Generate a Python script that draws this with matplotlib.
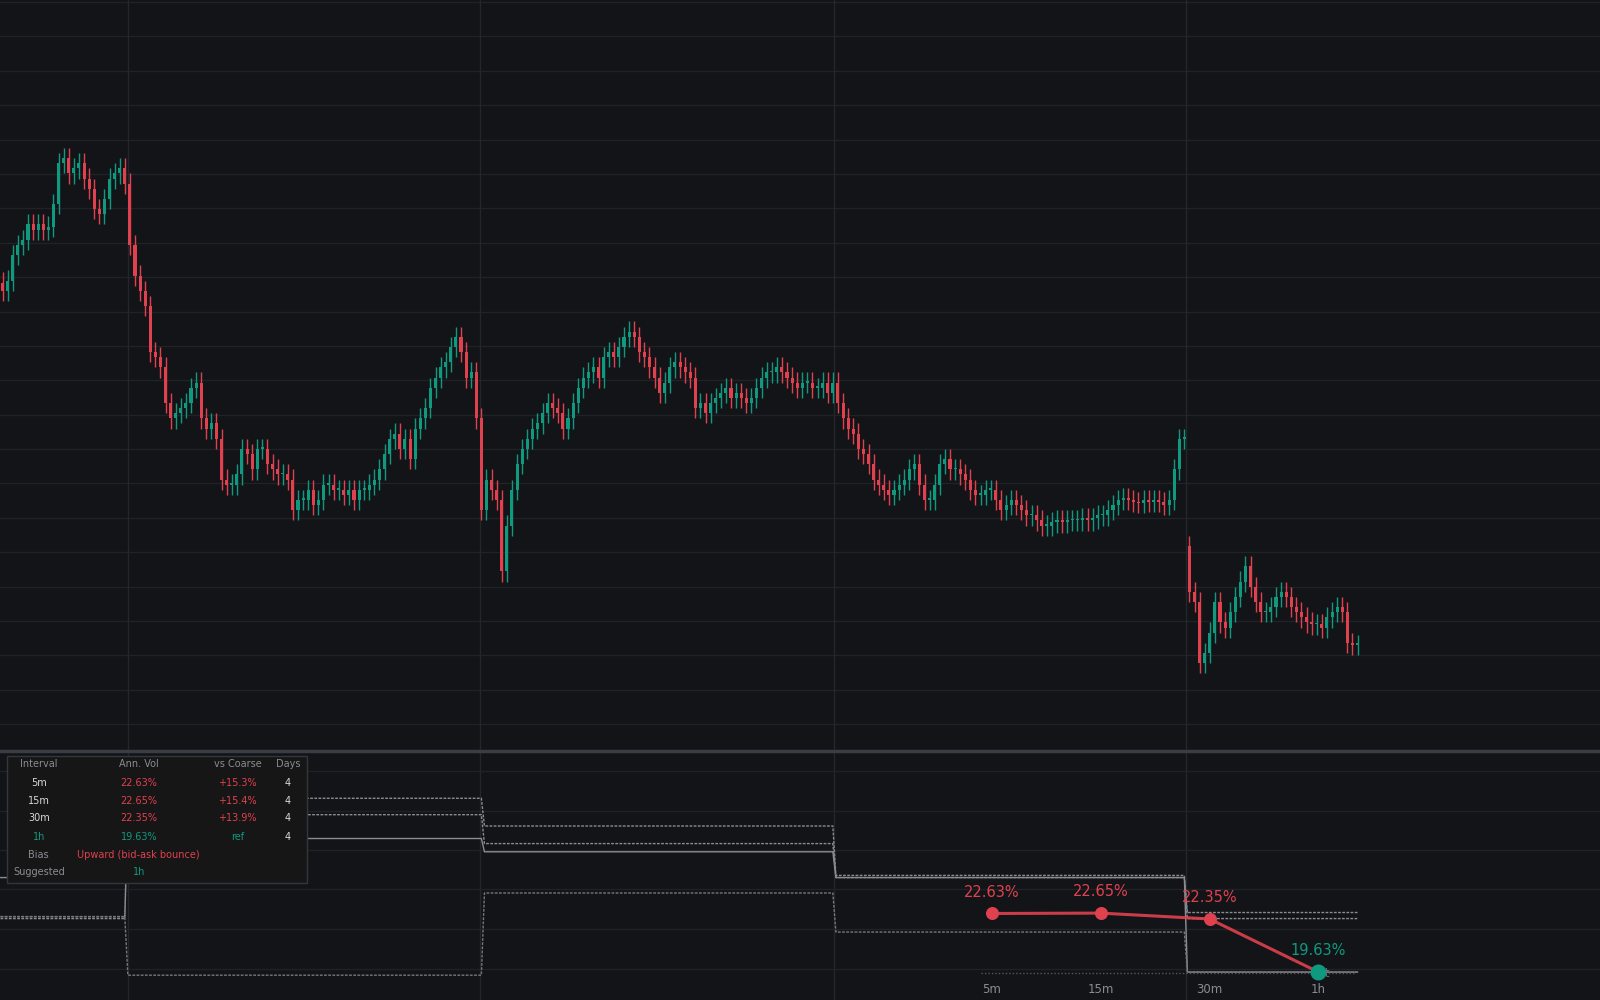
import matplotlib
matplotlib.use("Agg")
import matplotlib.pyplot as plt
import numpy as np

# close prices (arbitrary price units), one candle every step
close_y = [285,275,250,240,235,220,225,220,225,222,200,160,155,170,165,160,175,185,205,210,
195,175,170,165,180,240,270,285,300,345,350,360,395,410,405,400,395,380,375,410,
420,415,430,470,475,475,465,440,445,460,440,440,455,460,465,465,470,500,490,490,
480,495,490,475,475,480,480,485,480,490,480,480,475,470,460,445,430,425,440,430,
450,420,410,400,380,370,360,355,340,330,345,370,365,410,500,470,480,490,560,515,
480,455,440,430,420,415,405,395,400,405,420,410,395,380,370,365,360,370,350,345,
350,340,330,325,330,345,350,360,370,385,375,360,355,360,365,370,400,395,405,395,
390,385,380,390,385,390,395,390,380,370,365,365,360,365,370,375,380,375,375,380,
380,375,385,375,395,410,420,425,440,445,455,470,475,480,485,480,475,470,460,455,
475,490,490,475,455,450,460,460,465,470,480,485,485,480,480,490,500,495,490,495,
500,505,505,510,515,515,512,510,512,510,510,510,508,510,508,505,505,500,495,490,
488,490,492,493,490,492,490,492,495,490,460,430,430,580,590,650,640,620,590,610,
615,600,585,570,555,575,590,600,600,595,585,580,585,595,600,605,610,612,612,615,
605,600,595,600,630,632,632]
closes = [(1000 - y) / 10 for y in close_y]
opens = [closes[0] + 0.8] + closes[:-1]
gap_index = 233
gap_open_y = 535
opens[gap_index] = (1000 - gap_open_y) / 10
wick = 1.0

day_bounds = [24.6, 93.8, 163.2, 232.4]
day_edges = [-1, 24, 94, 163, 232, 266]

# rolling vol step lines per day (%)
vol_a = [22.47, 28.53, 27.11, 24.58, 22.68]
vol_b = [22.37, 27.69, 26.21, 24.47, 22.37]
vol_c = [24.47, 26.47, 25.79, 24.47, 19.63]
vol_d = [22.47, 19.47, 23.68, 21.68, 19.63]

intervals = ["5m", "15m", "30m", "1h"]
ann_vol = [22.63, 22.65, 22.35, 19.63]
vs_coarse = ["+15.3%", "+15.4%", "+13.9%", "ref"]
days = [4, 4, 4, 4]

BG = "#131418"
GRID = "#1f2227"
GREEN = "#0f9a7f"
RED = "#e0414f"

fig = plt.figure(figsize=(16, 10), dpi=100, facecolor=BG)
ax = fig.add_axes([0, 0.25, 1, 0.75], facecolor=BG)
ax2 = fig.add_axes([0, 0, 1, 0.248], facecolor=BG, sharex=ax)

n = len(closes)
for i in range(n):
    o, c = opens[i], closes[i]
    col = GREEN if c >= o else RED
    lo, hi = min(o, c), max(o, c)
    ax.vlines(i, lo - wick, hi + wick, color=col, lw=1)
    ax.bar(i, max(hi - lo, 0.15), bottom=lo, width=0.6, color=col, edgecolor=col, lw=0)

ax.set_xlim(-0.5, 313.6)
ax.set_ylim(26.5, 100)
for yy in np.arange(100 - 0.2, 26.5, -3.37):
    ax.axhline(yy, color=GRID, lw=1, zorder=0)
for b in day_bounds:
    ax.axvline(b, color="#23262c", lw=1, zorder=0)
    ax2.axvline(b, color="#23262c", lw=1, zorder=0)
ax.axis("off")

fig.add_artist(plt.Line2D([0, 1], [0.249, 0.249], color="#3a3d44", lw=2.5))

# lower panel
for s, ls, col in [(vol_a, (0, (2, 1)), "#8a8c92"), (vol_b, (0, (2, 1)), "#8a8c92"),
                   (vol_c, "-", "#8a8c92"), (vol_d, (0, (2, 1)), "#75777d")]:
    px, py = [], []
    for k in range(5):
        a, b2 = day_edges[k] + 0.6, day_edges[k + 1]
        px += [a, b2]; py += [s[k], s[k]]
    ax2.plot(px, py, color=col, lw=1, ls=ls)

ax2.set_ylim(18.2, 30.9)
for yy in [29.95, 27.9, 25.9, 23.9, 21.85, 19.8]:
    ax2.axhline(yy, color=GRID, lw=1, zorder=0)
ax2.axis("off")

ax3 = ax2.twiny()
ax3.set_xlim(-972 / 106.7, (1568 - 972) / 106.7)
ax3.set_ylim(ax2.get_ylim())
ax3.axis("off")
cx = np.arange(4)
ax3.plot([-0.1, 3.33], [ann_vol[3] - 0.05] * 2, color="#555860", lw=1, ls=(0, (1, 1.5)))
ax3.text(2.93, ann_vol[3] - 0.05, "flat", color="#6e7076", fontsize=8.5, va="center")
ax3.plot(cx, ann_vol, color=RED, lw=2.2, zorder=3, alpha=0.9)
for i in range(4):
    col = GREEN if i == 3 else RED
    ax3.scatter(cx[i], ann_vol[i], s=110 if i == 3 else 70, color=col, zorder=4)
    ax3.text(cx[i], ann_vol[i] + 0.7, f"{ann_vol[i]:.2f}%", color=col, fontsize=10.5,
             ha="center", va="bottom")
    ax3.text(cx[i], 18.4, intervals[i], color="#8a8c92", fontsize=8.5, ha="center", va="bottom")

# table
W, H = 1568, 980
def fx(x): return x / W
def fy(y): return 1 - y / H
fig.add_artist(plt.Rectangle((fx(7), fy(865)), fx(294), (865 - 741) / H, facecolor="#161616",
                             edgecolor="#34363b", lw=1, transform=fig.transFigure, zorder=5))
rows_y = [749, 767, 785, 802, 820, 838, 855]
cols_x = [38, 136, 233, 282]
GREY = "#8a8c92"
def T(x, y, s, c):
    fig.text(fx(x), fy(y), s, color=c, fontsize=7, ha="center", va="center", zorder=6)
for j, h in enumerate(["Interval", "Ann. Vol", "vs Coarse", "Days"]):
    T(cols_x[j], rows_y[0], h, GREY)
for i in range(4):
    g = i == 3
    T(cols_x[0], rows_y[i + 1], intervals[i], GREEN if g else "#d8d9dc")
    T(cols_x[1], rows_y[i + 1], f"{ann_vol[i]:.2f}%", GREEN if g else RED)
    T(cols_x[2], rows_y[i + 1], vs_coarse[i], GREEN if g else RED)
    T(cols_x[3], rows_y[i + 1], str(days[i]), "#d8d9dc")
T(cols_x[0], rows_y[5], "Bias", GREY)
T(136, rows_y[5], "Upward (bid-ask bounce)", RED)
T(cols_x[0], rows_y[6], "Suggested", GREY)
T(136, rows_y[6], "1h", GREEN)

fig.savefig("out.png", facecolor=BG)
